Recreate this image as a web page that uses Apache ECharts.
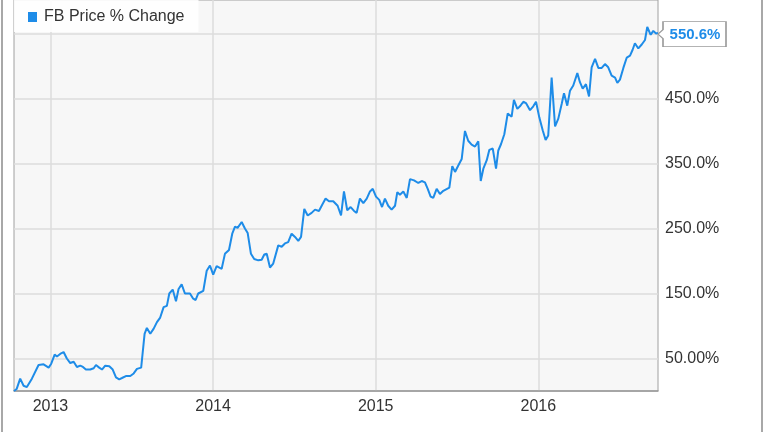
<!DOCTYPE html>
<html>
<head>
<meta charset="utf-8">
<script src="https://cdn.jsdelivr.net/npm/echarts@6/dist/echarts.min.js"></script>
<style>
html,body{margin:0;padding:0;background:#fff;}
#chart{width:764px;height:432px;}
</style>
</head>
<body>
<div id="chart"></div>
<script>
// Decimal years (x)
const years = [2012.776, 2012.792, 2012.814, 2012.835, 2012.855, 2012.886, 2012.927, 2012.958, 2012.989, 2013.005,
  2013.026, 2013.040, 2013.060, 2013.081, 2013.101, 2013.122, 2013.143, 2013.163, 2013.183, 2013.200, 2013.218, 2013.245, 2013.266, 2013.280, 2013.300,
  2013.317, 2013.337, 2013.362, 2013.383, 2013.403, 2013.423, 2013.440, 2013.464, 2013.491, 2013.512, 2013.532, 2013.558,
  2013.579, 2013.593, 2013.614, 2013.635, 2013.655, 2013.675, 2013.696, 2013.716, 2013.731, 2013.752, 2013.772, 2013.788, 2013.807, 2013.827, 2013.858, 2013.878, 2013.893, 2013.909, 2013.940, 2013.961, 2013.981,
  2014.001, 2014.022, 2014.053, 2014.073, 2014.098, 2014.118, 2014.135, 2014.151, 2014.176, 2014.196, 2014.213, 2014.233, 2014.253, 2014.278, 2014.299, 2014.315, 2014.330,
  2014.350, 2014.370, 2014.401, 2014.422, 2014.442, 2014.462, 2014.483, 2014.504, 2014.524, 2014.541, 2014.561, 2014.582, 2014.606, 2014.627, 2014.651, 2014.672, 2014.692,
  2014.713, 2014.739, 2014.766, 2014.787, 2014.805, 2014.825, 2014.846, 2014.867, 2014.883, 2014.903, 2014.924, 2014.945, 2014.965, 2014.982,
  2015.002, 2015.022, 2015.039, 2015.057, 2015.077, 2015.098, 2015.119, 2015.133, 2015.149, 2015.170, 2015.191, 2015.211, 2015.236, 2015.262, 2015.283, 2015.303, 2015.320,
  2015.338, 2015.354, 2015.375, 2015.395, 2015.416, 2015.453, 2015.471, 2015.488, 2015.508, 2015.529, 2015.549, 2015.569, 2015.590, 2015.611, 2015.631, 2015.646,
  2015.662, 2015.683, 2015.699, 2015.720, 2015.740, 2015.754, 2015.771, 2015.791, 2015.812, 2015.836, 2015.850, 2015.871, 2015.887, 2015.908, 2015.924, 2015.949, 2015.969, 2015.986,
  2016.006, 2016.027, 2016.045, 2016.061, 2016.082, 2016.103, 2016.123, 2016.144, 2016.158, 2016.178, 2016.195, 2016.215, 2016.240, 2016.256, 2016.273, 2016.293, 2016.312, 2016.328,
  2016.349, 2016.369, 2016.390, 2016.410, 2016.430, 2016.451, 2016.472, 2016.486, 2016.502, 2016.523, 2016.544, 2016.564, 2016.580, 2016.594, 2016.615, 2016.636, 2016.656, 2016.670, 2016.691, 2016.707, 2016.724, 2016.736];

// FB price % change values
const pct = [0, 3, 19, 8, 6, 19, 40, 41, 36, 42,
  56, 53, 57, 60, 50, 43, 45, 37, 39, 37, 33, 33, 35, 40, 36,
  33, 39, 38, 33, 21, 18, 20, 23, 23, 27, 34, 36,
  88, 97, 88, 96, 106, 113, 129, 131, 150, 156, 138, 157, 164, 150, 150, 142, 140, 150, 154, 185, 193,
  179, 192, 188, 211, 217, 242, 253, 251, 260, 250, 243, 211, 203, 201, 202, 210, 211,
  190, 196, 224, 222, 227, 229, 242, 237, 231, 237, 280, 270, 274, 279, 277, 287, 296,
  292, 292, 285, 270, 307, 278, 283, 277, 274, 296, 289, 296, 307, 311,
  299, 294, 283, 296, 285, 279, 285, 306, 302, 307, 297, 326, 324, 320, 323, 321, 311,
  299, 297, 311, 303, 308, 313, 346, 337, 347, 357, 400, 385, 379, 376, 384, 323,
  342, 355, 371, 373, 342, 370, 380, 395, 427, 422, 448, 434, 438, 445, 443, 432, 438, 445,
  421, 401, 386, 393, 482, 407, 419, 442, 458, 439, 462, 470, 489, 475, 465, 472, 453, 498,
  511, 497, 497, 503, 498, 485, 482, 474, 479, 497, 513, 516, 525, 535, 527, 533, 540, 560, 548, 554, 550, 550.6];

const seriesName = 'FB Price % Change';
const xTickYears = [2013, 2014, 2015, 2016];
const yGridValues = [50, 150, 250, 350, 450, 550];
const yLabelValues = [50, 150, 250, 350, 450];

const FONT = "'Liberation Sans', Arial, sans-serif";
const BLUE = '#1e8ce8';

const data = years.map((y, i) => [y, pct[i]]);
const last = data[data.length - 1];

function fmtPct(v) {
  return (Math.abs(v) < 100 ? v.toFixed(2) : v.toFixed(1)) + '%';
}

const chart = echarts.init(document.getElementById('chart'), null, {renderer: 'canvas'});
chart.setOption({
  animation: false,
  backgroundColor: '#ffffff',
  textStyle: {fontFamily: FONT},
  grid: {
    left: 14, right: 106, top: 0, bottom: 41,
    show: true, backgroundColor: '#f7f7f7', borderColor: '#a0a0a0', borderWidth: 1
  },
  legend: {
    left: 14, top: 0,
    padding: [9, 14, 7, 14],
    backgroundColor: 'rgba(255,255,255,0.88)',
    icon: 'rect', itemWidth: 9, itemHeight: 10, itemGap: 10,
    textStyle: {fontSize: 16, color: '#333', fontFamily: FONT, padding: [1, 0, 0, 2]},
    data: [seriesName]
  },
  xAxis: {
    type: 'value',
    min: years[0], max: last[0],
    axisLine: {show: true, lineStyle: {color: '#999', width: 1.5}},
    axisTick: {show: false, customValues: xTickYears},
    splitLine: {show: true, lineStyle: {color: '#dcdcdc', width: 1.5}},
    axisLabel: {
      customValues: xTickYears, fontSize: 16, color: '#333', margin: 8, fontFamily: FONT,
      formatter: v => String(Math.round(v))
    }
  },
  yAxis: {
    type: 'value', position: 'right',
    min: 0, max: 601.5,
    axisLine: {show: false},
    axisTick: {show: false, customValues: yGridValues},
    splitLine: {show: true, lineStyle: {color: '#dcdcdc', width: 1.5}},
    axisLabel: {
      customValues: yLabelValues, fontSize: 16, color: '#333', margin: 7, fontFamily: FONT,
      formatter: v => fmtPct(v)
    }
  },
  graphic: [
    {type: 'rect', left: 1, top: 0, shape: {width: 2, height: 432}, style: {fill: '#a8a8a8'}, silent: true},
    {type: 'rect', left: 761, top: 0, shape: {width: 2, height: 432}, style: {fill: '#a8a8a8'}, silent: true}
  ],
  series: [{
    name: seriesName,
    type: 'line',
    data: data,
    showSymbol: false,
    symbol: 'none',
    color: BLUE,
    lineStyle: {color: BLUE, width: 2},
    z: 3,
    markPoint: {
      silent: true,
      symbol: 'path://M0 12.5 L5 8 L5 0 L68 0 L68 25 L5 25 L5 17 Z',
      symbolSize: [68, 25],
      symbolOffset: [34, 1],
      itemStyle: {color: '#ffffff', borderColor: '#9a9a9a', borderWidth: 1},
      label: {
        show: true, position: 'inside', offset: [3, 1],
        color: BLUE, fontWeight: 'bold', fontSize: 15, fontFamily: FONT,
        formatter: p => fmtPct(p.value)
      },
      data: [{coord: last, value: last[1]}]
    }
  }]
});
</script>
</body>
</html>
